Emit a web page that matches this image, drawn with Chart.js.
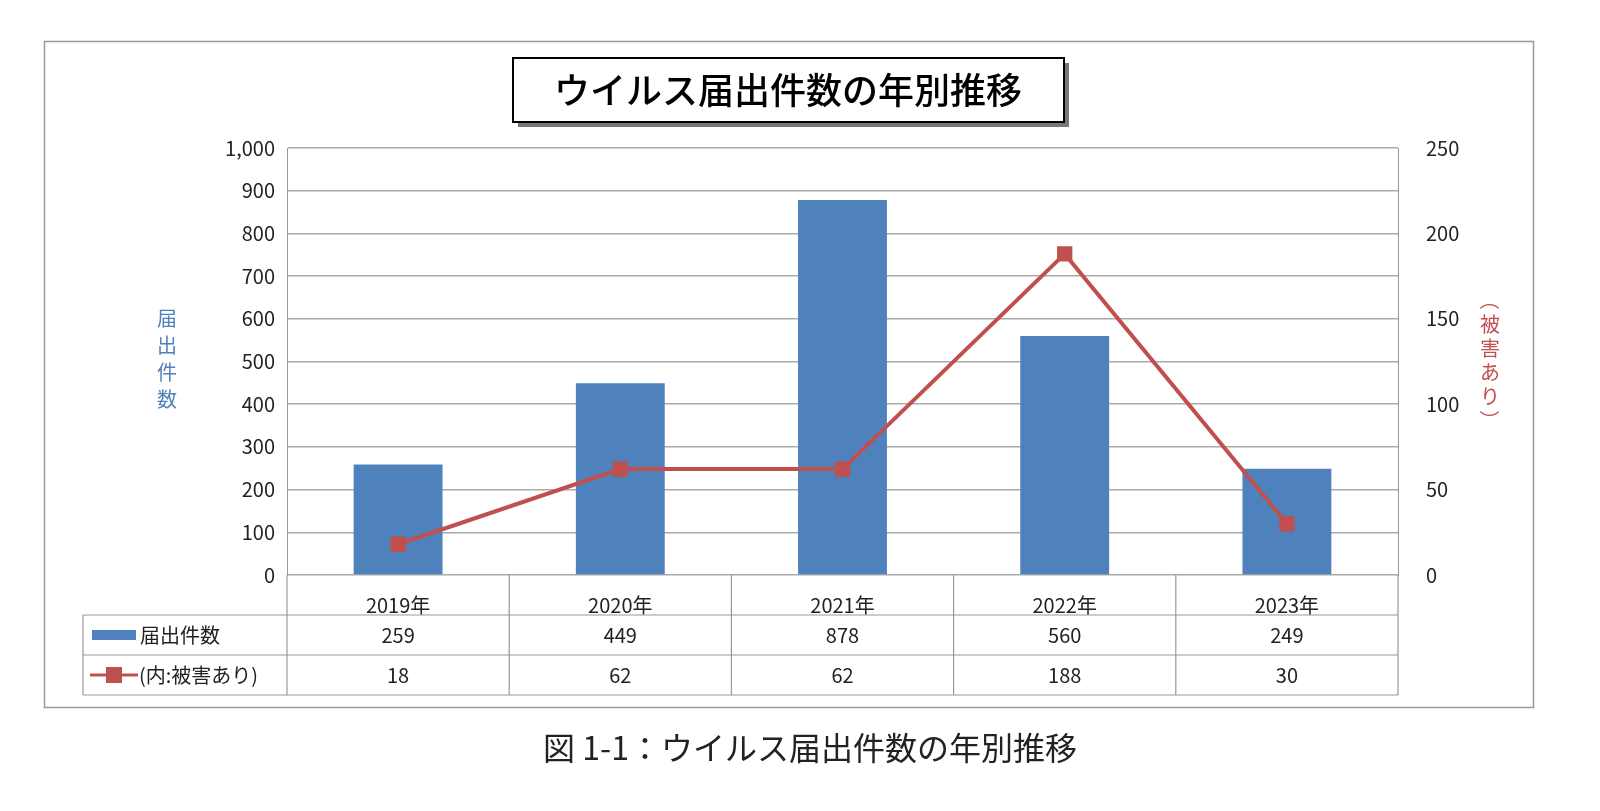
<!DOCTYPE html>
<html><head><meta charset="utf-8">
<script src="https://cdn.jsdelivr.net/npm/chart.js@4"></script>
<style>html,body{margin:0;padding:0;background:#fff}#w{width:1600px;height:811px;position:relative}</style>
</head><body><div id="w"><canvas id="c" width="1600" height="811"></canvas></div>
<script>
const categories = ['2019年','2020年','2021年','2022年','2023年'];
const reports = [259,449,878,560,249];
const damaged = [18,62,62,188,30];
const seriesNames = ['届出件数','(内:被害あり)'];
const chartTitle = 'ウイルス届出件数の年別推移';
const caption = '図 1-1：ウイルス届出件数の年別推移';
const leftTitle = '届出件数';
const rightTitle = '（被害あり）';
const BLUE='#4F81BD', RED='#C0504D';
const FONT='"Noto Sans CJK JP","Noto Sans",sans-serif';

const deco = {
  id:'deco',
  afterDraw(ch){
    const c=ch.ctx, x=ch.scales.x, a=ch.chartArea;
    c.save();
    c.strokeStyle='#999'; c.lineWidth=1.5; c.strokeRect(44.5,41.5,1489,666);
    c.fillStyle='#777'; c.fillRect(518,63,551,64);
    c.fillStyle='#fff'; c.fillRect(513,58,551,64);
    c.strokeStyle='#000'; c.lineWidth=2; c.strokeRect(513,58,551,64);
    c.fillStyle='#000'; c.font='500 36px '+FONT; c.textAlign='center'; c.textBaseline='middle';
    c.fillText(chartTitle,788,90);
    c.font='32px '+FONT; c.fillStyle='#222'; c.fillText(caption,810,748);
    c.font='20px '+FONT; c.fillStyle=BLUE;
    [...leftTitle].forEach((ch2,i)=>c.fillText(ch2,167,318+i*27));
    c.fillStyle=RED;
    [...rightTitle].forEach((ch2,i)=>{
      c.save(); c.translate(1490,300+i*24);
      if(ch2==='（'||ch2==='）'){c.rotate(Math.PI/2);} c.fillText(ch2,0,0); c.restore();
    });
    const rowH=40, top=a.bottom, L=83;
    const n=categories.length, step=(a.right-a.left)/n;
    c.strokeStyle='#999'; c.lineWidth=1.2;
    c.beginPath();
    for(let i=0;i<=n;i++){const xx=a.left+i*step; c.moveTo(xx,top); c.lineTo(xx,top+3*rowH);}
    c.moveTo(L,top+rowH); c.lineTo(a.right,top+rowH);
    c.moveTo(L,top+2*rowH); c.lineTo(a.right,top+2*rowH);
    c.moveTo(L,top+3*rowH); c.lineTo(a.right,top+3*rowH);
    c.moveTo(L,top+rowH); c.lineTo(L,top+3*rowH);
    c.stroke();
    c.font='20px '+FONT; c.fillStyle='#222'; c.textAlign='center';
    [reports,damaged].forEach((arr,r)=>arr.forEach((v,i)=>{
      c.fillText(String(v), x.getPixelForValue(i), top+rowH*(r+1.5));
    }));
    c.textAlign='left';
    c.fillStyle=BLUE; c.fillRect(92,top+rowH*1.5-5,44,10);
    c.fillStyle='#222'; c.fillText(seriesNames[0],140,top+rowH*1.5);
    c.strokeStyle=RED; c.lineWidth=3; c.beginPath(); c.moveTo(90,top+rowH*2.5); c.lineTo(138,top+rowH*2.5); c.stroke();
    c.fillStyle=RED; c.fillRect(106,top+rowH*2.5-8,16,16);
    c.fillStyle='#222'; c.fillText(seriesNames[1],139,top+rowH*2.5);
    c.restore();
  }
};

new Chart(document.getElementById('c'),{
  data:{labels:categories,datasets:[
    {type:'line',label:seriesNames[1],data:damaged,yAxisID:'y2',borderColor:RED,backgroundColor:RED,borderWidth:4,pointStyle:'rect',pointRadius:8,pointHoverRadius:8,order:0},
    {type:'bar',label:seriesNames[0],data:reports,yAxisID:'y',backgroundColor:BLUE,barPercentage:0.4,categoryPercentage:1,order:1}
  ]},
  options:{responsive:false,animation:false,devicePixelRatio:1,
    layout:{padding:{left:150,right:100,top:148,bottom:196}},
    plugins:{legend:{display:false},tooltip:{enabled:false}},
    scales:{
      x:{grid:{display:false},border:{display:false},ticks:{color:'#222',font:{size:20,family:FONT},padding:10},afterFit(s){s.height=40;}},
      y:{min:0,max:1000,ticks:{stepSize:100,color:'#222',font:{size:20,family:FONT},padding:12,callback:v=>v.toLocaleString('en-US')},
         grid:{color:'#aaa',lineWidth:1.5,drawTicks:false},border:{color:'#999'},afterFit(s){s.width=137;}},
      y2:{position:'right',min:0,max:250,ticks:{stepSize:50,color:'#222',font:{size:20,family:FONT},padding:20},
         grid:{display:false},border:{color:'#999'},afterFit(s){s.width=102;}}
    }},
  plugins:[deco]
});
</script>
</body></html>
